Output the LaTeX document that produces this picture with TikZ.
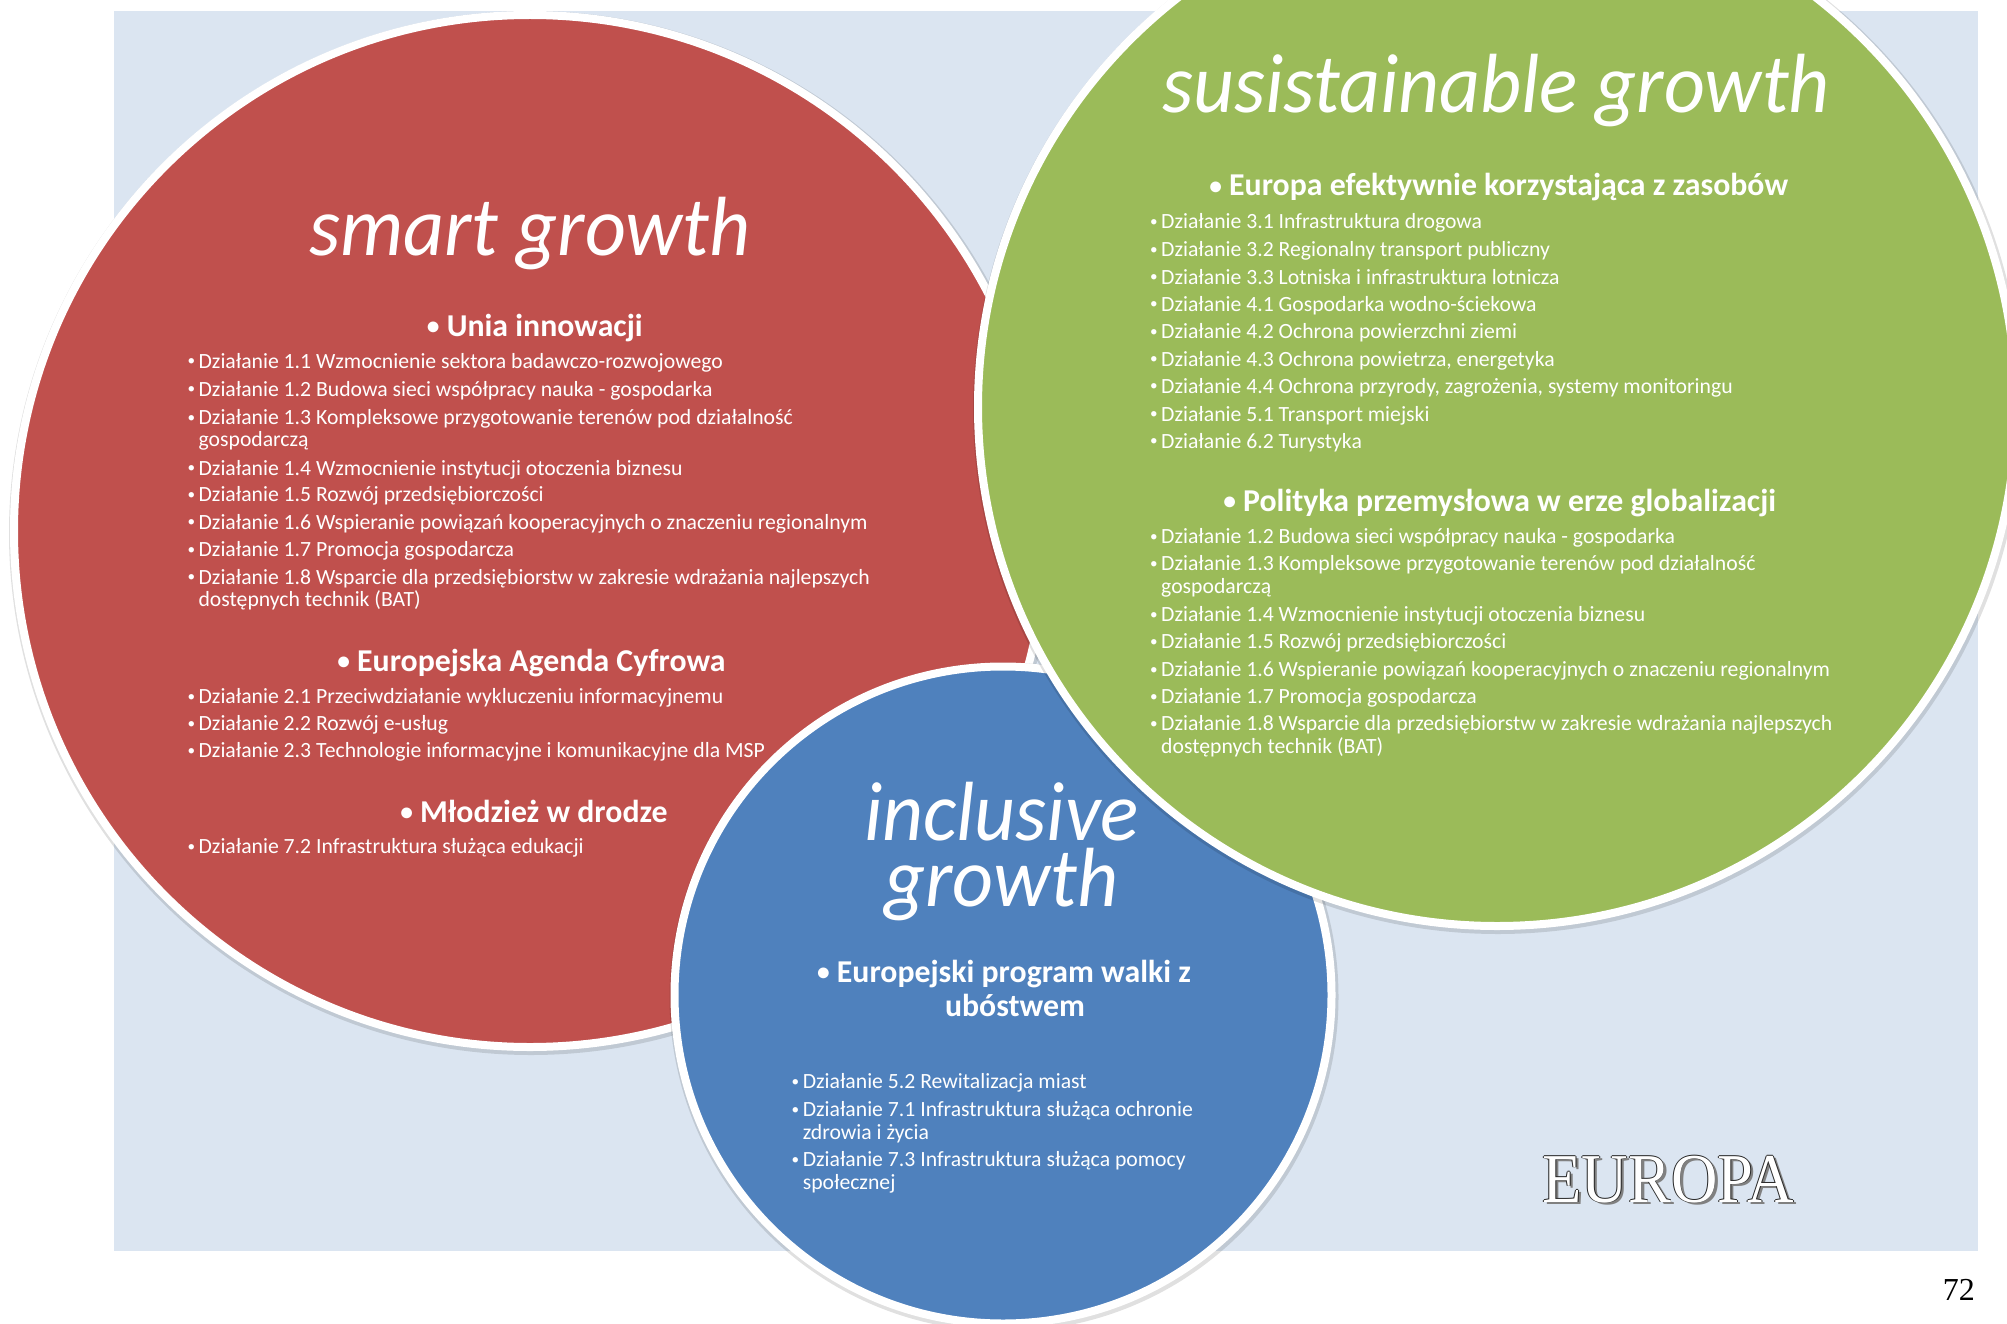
\documentclass[tikz,border=0pt]{standalone}
\usepackage{graphicx}
\usepackage{fontspec}
\setmainfont{Carlito}
\newfontfamily\ttlfam[FakeStretch=0.95]{Carlito}
\newfontfamily\eurofont[FakeStretch=0.92]{Liberation Serif}
\newfontfamily\pagefont{Liberation Serif}
\definecolor{bgblue}{HTML}{DBE5F1}
\definecolor{cred}{HTML}{C0504D}
\definecolor{cgreen}{HTML}{9BBB59}
\definecolor{cblue}{HTML}{4F81BD}
\newcommand\ttlfont{\ttlfam\fontsize{84}{66}\selectfont\itshape}
\newcommand\hdrfont{\fontsize{31.8}{32}\selectfont\bfseries}
\newcommand\itmfont{\fontsize{21.7}{22}\selectfont}
\newcommand\bul{\llap{\raisebox{0.1em}{\scalebox{0.7}{\textbullet}}\hspace{3.5pt}}}
\newcommand\hbul{\llap{\raisebox{0.05em}{\scalebox{0.8}{\textbullet}}\ }}
\tikzset{
  ttl/.style={font=\ttlfont, text=white, inner sep=0pt, anchor=base},
  hdr/.style={font=\hdrfont, text=white, inner sep=0pt, anchor=base west},
  itm/.style={font=\itmfont, text=white, inner sep=0pt, anchor=base west},
  ring/.style={line width=8pt, draw=white},
  shade/.style={fill=black, opacity=0.12},
  eutxt/.style={font=\eurofont\fontsize{70}{70}\selectfont, inner sep=0pt, anchor=base west},
}
\begin{document}
\begin{tikzpicture}[x=1pt,y=-1pt]
\useasboundingbox (0,0) rectangle (2007,1324);
\clip (0,0) rectangle (2007,1324);
\fill[white] (0,0) rectangle (2007,1324);
\fill[bgblue] (114,11) rectangle (1978,1251);

% red circle
\fill[shade] (531,533) circle (522);
\filldraw[ring, fill=cred] (530,531) circle (516);
\node[ttl] (rt) at (530,256) {smart growth};
\node[hdr] (rh1) at (446.6,336) {\hbul Unia innowacji};
\node[itm] (r11) at (198.4,368) {\bul Działanie 1.1 Wzmocnienie sektora badawczo-rozwojowego};
\node[itm] (r12) at (198.4,396) {\bul Działanie 1.2 Budowa sieci współpracy nauka - gospodarka};
\node[itm] (r13) at (198.4,424.5) {\bul Działanie 1.3 Kompleksowe przygotowanie terenów pod działalność};
\node[itm] (r13b) at (198.4,446.5) {gospodarczą};
\node[itm] (r14) at (198.4,475) {\bul Działanie 1.4 Wzmocnienie instytucji otoczenia biznesu};
\node[itm] (r15) at (198.4,501.5) {\bul Działanie 1.5 Rozwój przedsiębiorczości};
\node[itm] (r16) at (198.4,529) {\bul Działanie 1.6 Wspieranie powiązań kooperacyjnych o znaczeniu regionalnym};
\node[itm] (r17) at (198.4,556.5) {\bul Działanie 1.7 Promocja gospodarcza};
\node[itm] (r18) at (198.4,584) {\bul Działanie 1.8 Wsparcie dla przedsiębiorstw w zakresie wdrażania najlepszych};
\node[itm] (r18b) at (198.4,606.5) {dostępnych technik (BAT)};
\node[hdr] (rh2) at (357,671) {\hbul Europejska Agenda Cyfrowa};
\node[itm] (r21) at (198.4,703.6) {\bul Działanie 2.1 Przeciwdziałanie wykluczeniu informacyjnemu};
\node[itm] (r22) at (198.4,730.5) {\bul Działanie 2.2 Rozwój e-usług};
\node[itm] (r23) at (198.4,757.4) {\bul Działanie 2.3 Technologie informacyjne i komunikacyjne dla MSP};
\node[hdr] (rh3) at (420,822) {\hbul Młodzież w drodze};
\node[itm] (r72) at (198.4,853.4) {\bul Działanie 7.2 Infrastruktura służąca edukacji};

% blue circle
\fill[shade] (1004,997) circle (334.5);
\filldraw[ring, fill=cblue] (1003,995) circle (328.5);
\node[ttl] (bt) at (1001.5,906) {\vbox{\halign{\hfil#\hfil\cr inclusive\cr growth\cr}}};
\node[hdr] (bh1) at (836.7,982) {\hbul Europejski program walki z};
\node[hdr, anchor=base] (bh2) at (1015,1016.7) {ubóstwem};
\node[itm] (b52) at (802.6,1088.5) {\bul Działanie 5.2 Rewitalizacja miast};
\node[itm] (b71) at (802.6,1116.5) {\bul Działanie 7.1 Infrastruktura służąca ochronie};
\node[itm] (b71b) at (802.6,1139.5) {zdrowia i życia};
\node[itm] (b73) at (802.6,1166.5) {\bul Działanie 7.3 Infrastruktura służąca pomocy};
\node[itm] (b73b) at (802.6,1189) {społecznej};

% green circle
\fill[shade] (1498,409) circle (525);
\filldraw[ring, fill=cgreen] (1497,407) circle (519);
\node[ttl] (gt) at (1496,113) {susistainable growth};
\node[hdr] (gh1) at (1229,196) {\hbul Europa efektywnie korzystająca z zasobów};
\node[itm] (g31) at (1161,228.5) {\bul Działanie 3.1 Infrastruktura drogowa};
\node[itm] (g32) at (1161,256.5) {\bul Działanie 3.2 Regionalny transport publiczny};
\node[itm] (g33) at (1161,284) {\bul Działanie 3.3 Lotniska i infrastruktura lotnicza};
\node[itm] (g41) at (1161,311) {\bul Działanie 4.1 Gospodarka wodno-ściekowa};
\node[itm] (g42) at (1161,338.5) {\bul Działanie 4.2 Ochrona powierzchni ziemi};
\node[itm] (g43) at (1161,366) {\bul Działanie 4.3 Ochrona powietrza, energetyka};
\node[itm] (g44) at (1161,393) {\bul Działanie 4.4 Ochrona przyrody, zagrożenia, systemy monitoringu};
\node[itm] (g51) at (1161,421) {\bul Działanie 5.1 Transport miejski};
\node[itm] (g62) at (1161,448) {\bul Działanie 6.2 Turystyka};
\node[hdr] (gh2) at (1243,511) {\hbul Polityka przemysłowa w erze globalizacji};
\node[itm] (g12) at (1161,543.6) {\bul Działanie 1.2 Budowa sieci współpracy nauka - gospodarka};
\node[itm] (g13) at (1161,570.5) {\bul Działanie 1.3 Kompleksowe przygotowanie terenów pod działalność};
\node[itm] (g13b) at (1161,593) {gospodarczą};
\node[itm] (g14) at (1161,621.7) {\bul Działanie 1.4 Wzmocnienie instytucji otoczenia biznesu};
\node[itm] (g15) at (1161,648.6) {\bul Działanie 1.5 Rozwój przedsiębiorczości};
\node[itm] (g16) at (1161,676.7) {\bul Działanie 1.6 Wspieranie powiązań kooperacyjnych o znaczeniu regionalnym};
\node[itm] (g17) at (1161,703.6) {\bul Działanie 1.7 Promocja gospodarcza};
\node[itm] (g18) at (1161,730.5) {\bul Działanie 1.8 Wsparcie dla przedsiębiorstw w zakresie wdrażania najlepszych};
\node[itm] (g18b) at (1161,753) {dostępnych technik (BAT)};

% EUROPA with outline and shadow
\node[eutxt, text=black!50] (eus) at (1545,1204) {EUROPA};
\foreach \dx/\dy [count=\k] in {-0.8/0,0.8/0,0/-0.8,0/0.8}
  \node[eutxt, text=black!85] (euo\k) at (1542+\dx,1202+\dy) {EUROPA};
\node[eutxt, text=white] (eu) at (1542,1202) {EUROPA};

\node[font=\pagefont\fontsize{32}{32}\selectfont, inner sep=0pt, anchor=base east] (pg) at (1975,1300) {72};
\end{tikzpicture}
\end{document}
